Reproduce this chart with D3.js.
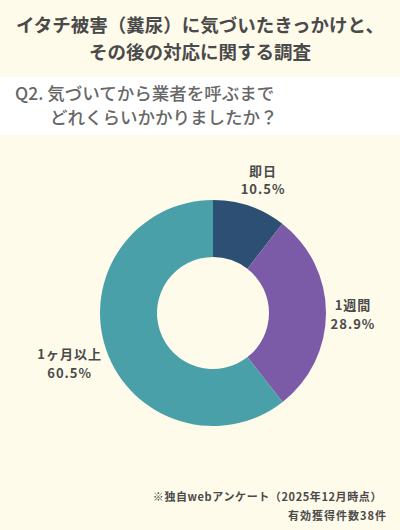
<!DOCTYPE html>
<html>
<head>
<meta charset="utf-8">
<script src="https://cdn.jsdelivr.net/npm/d3@7"></script>
<style>
body { margin: 0; background: #fefbea; }
svg { display: block; font-family: "Noto Sans CJK JP", "Noto Sans", sans-serif; }
</style>
</head>
<body>
<svg></svg>
<script>
var categories = ["即日", "1週間", "1ヶ月以上"];
var values = [10.5, 28.9, 60.5];
var colors = ["#2d4f73", "#7b5aa8", "#4aa0a8"];
var titleLines = ["イタチ被害（糞尿）に気づいたきっかけと、", "その後の対応に関する調査"];
var questionLines = ["Q2. 気づいてから業者を呼ぶまで", "どれくらいかかりましたか？"];
var notes = ["※独自webアンケート（2025年12月時点）", "有効獲得件数38件"];

var width = 400, height = 530;
var cx = 213, cy = 313, outerR = 113, innerR = 56;

var svg = d3.select("svg")
    .attr("width", width)
    .attr("height", height)
    .style("background-color", "#fefbea");

// title
svg.selectAll(".title")
    .data(titleLines)
    .enter().append("text")
    .attr("class", "title")
    .attr("x", width/2)
    .attr("y", function(d, i) { return 32 + i*27; })
    .attr("text-anchor", "middle")
    .style("font-size", "18.5px")
    .style("font-weight", "bold")
    .style("fill", "#4a4a4a")
    .text(function(d) { return d; });

// question band
svg.append("rect")
    .attr("x", 0).attr("y", 77)
    .attr("width", width).attr("height", 58)
    .style("fill", "#ffffff");

svg.selectAll(".question")
    .data(questionLines)
    .enter().append("text")
    .attr("class", "question")
    .attr("x", function(d, i) { return i ? 50 : 15; })
    .attr("y", function(d, i) { return 100 + i*24; })
    .style("font-size", "17.5px")
    .style("font-weight", "500")
    .style("fill", "#676767")
    .text(function(d) { return d; });

// donut
var pie = d3.pie().sort(null).value(function(d) { return d; });
var arc = d3.arc().innerRadius(innerR).outerRadius(outerR);
var arcs = pie(values);

var g = svg.append("g").attr("transform", "translate(" + cx + "," + cy + ")");
g.selectAll(".slice")
    .data(arcs)
    .enter().append("path")
    .attr("class", "slice")
    .attr("d", arc)
    .style("fill", function(d, i) { return colors[i]; });

// labels, placed outside the ring
var labelArc = d3.arc().innerRadius(outerR + 26).outerRadius(outerR + 26);
var labelShift = [[5, -2], [1, 1], [-12, 5]];
var labels = g.selectAll(".label")
    .data(arcs)
    .enter().append("text")
    .attr("class", "label")
    .attr("transform", function(d, i) {
        var p = labelArc.centroid(d);
        return "translate(" + (p[0] + labelShift[i][0]) + "," + (p[1] + labelShift[i][1]) + ")";
    })
    .attr("text-anchor", "middle")
    .style("font-size", "13px")
    .style("font-weight", "bold")
    .style("letter-spacing", "1px")
    .style("fill", "#4a4a4a");
labels.append("tspan")
    .attr("x", 0).attr("dy", "-0.3em")
    .text(function(d, i) { return categories[i]; });
labels.append("tspan")
    .attr("x", 0).attr("dy", "1.45em")
    .text(function(d) { return d.data.toFixed(1) + "%"; });

// notes
svg.selectAll(".note")
    .data(notes)
    .enter().append("text")
    .attr("class", "note")
    .attr("x", function(d, i) { return i ? 387 : 382; })
    .attr("y", function(d, i) { return 501 + i*19; })
    .attr("text-anchor", "end")
    .style("font-size", "11px")
    .style("font-weight", "bold")
    .style("letter-spacing", function(d, i) { return i ? "1px" : "0.6px"; })
    .style("fill", "#4a4a4a")
    .text(function(d) { return d; });
</script>
</body>
</html>
